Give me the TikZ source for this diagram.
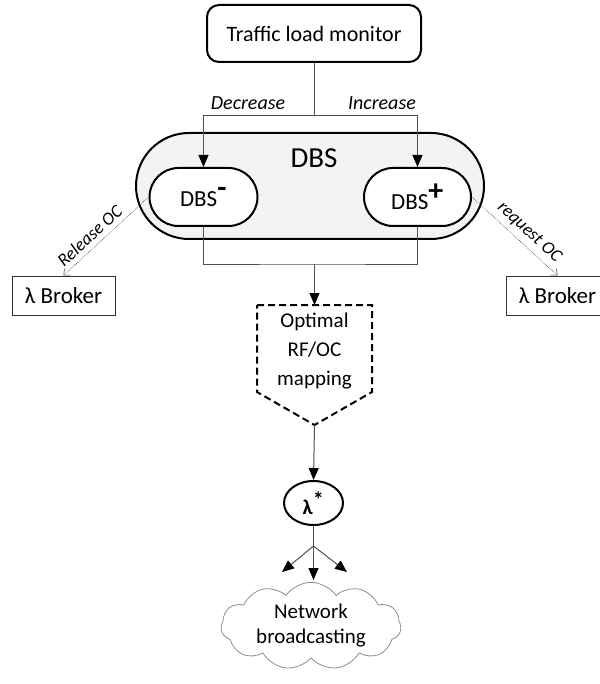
\documentclass[tikz,border=0pt]{standalone}
\usepackage{fontspec}
\setmainfont{Carlito}
\usetikzlibrary{arrows.meta, shapes.misc, shapes.geometric, shapes.symbols, positioning, calc}
\definecolor{dbsfill}{HTML}{F2F4F3}
\definecolor{linegray}{HTML}{505050}

\begin{document}
\begin{tikzpicture}[x=1pt, y=-1pt,
    pill/.style={draw, line width=2pt, rounded rectangle, inner sep=0pt},
    broker/.style={draw=black!80, line width=1pt, minimum width=103pt, minimum height=39pt, inner sep=0pt, font=\fontsize{23}{27}\selectfont},
    wire/.style={draw=linegray, line width=1pt},
    tip/.style={-{Triangle[length=12pt,width=10pt,color=black]}},
    oc/.style={draw=black!75, line width=0.6pt, densely dotted, -{Straight Barb[length=5pt,width=9pt]}},
    ocfont/.style={font=\fontsize{18}{21}\selectfont\itshape, inner sep=5pt}]
    \useasboundingbox (0,0) rectangle (599,684);

    \node[draw, line width=2pt, rounded corners=12pt, minimum width=214pt, minimum height=57pt, font=\fontsize{22}{26}\selectfont] (mon) at (314,33.5) {Traffic load monitor};
    \node[font=\fontsize{20}{24}\selectfont\itshape] (dec) at (248,103) {Decrease};
    \node[font=\fontsize{20}{24}\selectfont\itshape] (inc) at (382,103) {Increase};

    \node[pill, fill=dbsfill, minimum width=348pt, minimum height=106pt] (dbs) at (310,186) {};
    \node[font=\fontsize{29}{34}\selectfont] (dbslbl) at (314,158) {DBS};
    \node[pill, fill=white, minimum width=108pt, minimum height=58pt, font=\fontsize{23}{27}\selectfont] (dbsm) at (203.5,197) {DBS\textsuperscript{\fontsize{30}{30}\selectfont\textbf{-}}};
    \node[pill, fill=white, minimum width=107pt, minimum height=58pt, font=\fontsize{23}{27}\selectfont] (dbsp) at (417.5,197) {DBS\textsuperscript{\fontsize{30}{30}\selectfont\textbf{+}}};

    \coordinate (split) at (314,116);
    \draw[wire, tip] (mon.south) -- (split) -| (dbsm.north);
    \draw[wire, tip] (split) -| (dbsp.north);

    \node[broker] (lbrk) at (63.5,295.5) {λ Broker};
    \node[broker] (rbrk) at (557.5,295.5) {λ Broker};
    \draw[oc] (dbsm.west) -- node[sloped, above, pos=.6, ocfont] {Release OC} (lbrk.north);
    \draw[oc] (dbsp.east) -- node[sloped, above, pos=.57, ocfont] {request OC} (rbrk.north);

    \coordinate (join) at (314.5,264);
    \coordinate (optN) at (314.5,305);
    \coordinate (optS) at (314.5,425);
    \draw (dbsm.south) [wire] |- (join) -| (dbsp.south);
    \draw[line width=2pt, dash pattern=on 7pt off 4pt] (257,305) -- (372,305) -- (372,392) -- (optS) -- (257,392) -- cycle;
    \node[align=center, font=\fontsize{21}{29}\selectfont] (opt) at (314.5,351) {Optimal\\RF/OC\\mapping};
    \draw[wire, tip] (join) -- (optN);

    \node[draw, ellipse, line width=2pt, minimum width=59pt, minimum height=44pt, inner sep=0pt, font=\fontsize{21}{24}\selectfont\bfseries] (lam) at (313.5,503) {λ\textsuperscript{\fontsize{22}{22}\selectfont *}};
    \draw[wire, tip] (optS) -- (lam.north);

    \coordinate (fork) at (313.5,546);
    \coordinate (bl) at (282,572);
    \coordinate (bm) at (313.5,580);
    \coordinate (br) at (347,572);
    \draw[wire] (lam.south) -- (fork);
    \foreach \e in {bl, bm, br}
        \draw[wire, tip] (fork) -- (\e);

    \node[draw=black!45, line width=0.8pt, cloud, cloud puffs=11, cloud puff arc=110, aspect=2.3, minimum width=180pt, minimum height=82pt, inner sep=0pt, align=center, font=\fontsize{21}{25}\selectfont] (net) at (311,626) {Network\\broadcasting};
\end{tikzpicture}
\end{document}
